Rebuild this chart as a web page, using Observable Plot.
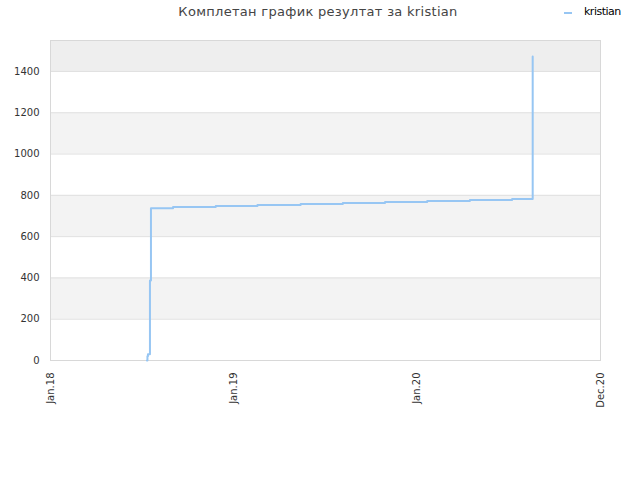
<!DOCTYPE html>
<html>
<head>
<meta charset="utf-8">
<script src="https://cdn.jsdelivr.net/npm/d3@7"></script>
<script src="https://cdn.jsdelivr.net/npm/@observablehq/plot@0.6"></script>
<style>
  body { margin: 0; background: #fff; }
  #wrap { position: relative; width: 640px; height: 480px; font-family: "DejaVu Sans", sans-serif; }
  #title { position: absolute; left: 0; width: 636px; top: 4px; text-align: center; font-size: 13px; color: #444; letter-spacing: 0.3px; }
  #legend { position: absolute; left: 564px; top: 5px; font-size: 11px; color: #000; display: flex; align-items: center; letter-spacing: -0.5px; }
  #legend .sw { width: 8px; height: 2px; background: #97c6f3; margin-right: 12px; margin-top: 3px; }
  #chart { position: absolute; left: 0; top: 0; }
</style>
</head>
<body>
<div id="wrap">
  <div id="chart"></div>
  <div id="title"></div>
  <div id="legend"><span class="sw"></span><span id="legendText"></span></div>
</div>
<script>
const titleText = "Комплетан график резултат за kristian";
const seriesName = "kristian";

const dates = ["2018-07-12","2018-07-13","2018-07-14","2018-07-18","2018-07-20","2018-09-02","2018-11-26","2019-02-17","2019-05-14","2019-08-06","2019-10-29","2020-01-21","2020-04-15","2020-07-08","2020-08-18"];
const values = [0, 20, 30, 387, 737, 744, 748, 753, 758, 763, 768, 773, 777, 782, 1473];

const xTickDates = ["2018-01-01","2019-01-01","2020-01-01","2020-12-31"];
const xTickLabels = ["Jan.18","Jan.19","Jan.20","Dec.20"];
const yTicks = [0, 200, 400, 600, 800, 1000, 1200, 1400];
const yMax = 1550;

document.getElementById("title").textContent = titleText;
document.getElementById("legendText").textContent = seriesName;

const data = dates.map((d, i) => ({date: new Date(d), value: values[i]}));
const xTicks = xTickDates.map(d => new Date(d));
const labelByTime = new Map(xTicks.map((d, i) => [+d, xTickLabels[i]]));

// alternating shaded bands between y ticks, plus the band above the last tick
const bands = [];
for (let i = 1; i < yTicks.length - 1; i += 2) bands.push({y1: yTicks[i], y2: yTicks[i + 1], fill: "#f3f3f3"});
bands.push({y1: yTicks[yTicks.length - 1], y2: yMax, fill: "#eeeeee"});

const chart = Plot.plot({
  width: 640,
  height: 480,
  marginLeft: 50,
  marginRight: 40,
  marginTop: 40,
  marginBottom: 120,
  style: {fontFamily: "DejaVu Sans, sans-serif", fontSize: "10px", color: "#333", background: "#fff"},
  x: {type: "utc", domain: [xTicks[0], xTicks[xTicks.length - 1]]},
  y: {domain: [0, yMax]},
  marks: [
    Plot.rect(bands, {y1: "y1", y2: "y2", fill: "fill"}),
    Plot.ruleY(yTicks.slice(1), {stroke: "#e0e0e0", strokeWidth: 1}),
    Plot.frame({stroke: "#d8d8d8"}),
    Plot.axisY({ticks: yTicks, tickFormat: d => String(d), tickSize: 0, tickPadding: 11, fill: "#333", label: null}),
    Plot.axisX({ticks: xTicks, tickFormat: d => labelByTime.get(+d), tickRotate: -90, tickSize: 0, tickPadding: 12, fill: "#333", label: null}),
    Plot.line(data, {x: "date", y: "value", curve: "step-after", stroke: "#97c6f3", strokeWidth: 2})
  ]
});
document.getElementById("chart").appendChild(chart);
</script>
</body>
</html>
